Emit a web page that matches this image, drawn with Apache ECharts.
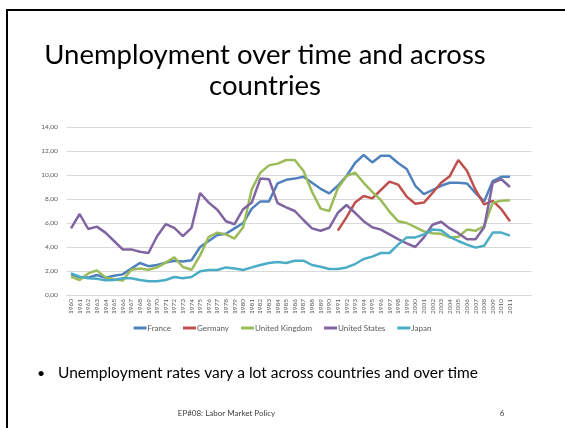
<!DOCTYPE html>
<html>
<head>
<meta charset="utf-8">
<script src="https://cdn.jsdelivr.net/npm/echarts@6/dist/echarts.min.js"></script>
<style>
  html, body { margin: 0; padding: 0; background: #fff; }
  #chart { width: 565px; height: 428px; }
</style>
</head>
<body>
<div id="chart"></div>
<script>
// Unemployment rates (%), 1960–2011
const years = [];
for (let y = 1960; y <= 2011; y++) years.push(String(y));

const france = [1.75, 1.47, 1.45, 1.67, 1.44, 1.6, 1.72, 2.2, 2.67, 2.4, 2.5, 2.7, 2.86, 2.8, 2.9, 4.0, 4.5, 5.0, 5.1,
  5.55, 6.0, 7.2, 7.8, 7.8, 9.3, 9.6, 9.7, 9.85, 9.35, 8.85, 8.47, 9.1, 9.9, 11.0, 11.67, 11.05, 11.6, 11.6, 11.0,
  10.5, 9.1, 8.4, 8.75, 9.1, 9.35, 9.35, 9.3, 8.5, 7.8, 9.5, 9.85, 9.85];

const germany = [null, null, null, null, null, null, null, null, null, null, null, null, null, null, null, null,
  null, null, null, null, null, null, null, null, null, null, null, null, null, null, null,
  5.36, 6.47, 7.7, 8.25, 8.05, 8.75, 9.45, 9.2, 8.2, 7.6, 7.7, 8.5, 9.35, 9.9, 11.25, 10.35, 8.75, 7.55, 7.85, 7.15, 6.15];

const unitedKingdom = [1.53, 1.25, 1.8, 2.05, 1.47, 1.3, 1.2, 2.1, 2.2, 2.1, 2.3, 2.7, 3.15, 2.33, 2.1, 3.3, 4.85, 5.2, 5.05,
  4.7, 5.65, 8.8, 10.2, 10.8, 10.95, 11.25, 11.25, 10.35, 8.6, 7.2, 7.0, 8.9, 9.9, 10.2, 9.35, 8.6, 7.9, 6.95, 6.15,
  6.0, 5.65, 5.3, 5.15, 5.1, 4.8, 4.85, 5.45, 5.35, 5.75, 7.7, 7.85, 7.9];

const unitedStates = [5.55, 6.75, 5.5, 5.7, 5.2, 4.5, 3.8, 3.8, 3.6, 3.5, 4.9, 5.9, 5.6, 4.9, 5.6, 8.5, 7.7, 7.1, 6.15,
  5.9, 7.15, 7.7, 9.7, 9.65, 7.65, 7.3, 7.0, 6.25, 5.55, 5.35, 5.6, 6.85, 7.5, 6.85, 6.15, 5.65, 5.45, 5.05, 4.65,
  4.3, 4.0, 4.8, 5.85, 6.1, 5.55, 5.15, 4.65, 4.65, 5.65, 9.35, 9.65, 9.0];

const japan = [1.8, 1.53, 1.4, 1.36, 1.22, 1.25, 1.4, 1.4, 1.25, 1.14, 1.14, 1.25, 1.5, 1.4, 1.5, 1.97, 2.08, 2.08, 2.3,
  2.2, 2.08, 2.3, 2.5, 2.67, 2.75, 2.67, 2.86, 2.86, 2.5, 2.36, 2.17, 2.17, 2.3, 2.58, 3.0, 3.2, 3.5, 3.5, 4.2,
  4.8, 4.8, 5.05, 5.45, 5.4, 4.85, 4.5, 4.2, 3.95, 4.1, 5.2, 5.2, 4.95];

const seriesNames = ['France', 'Germany', 'United Kingdom', 'United States', 'Japan'];
const seriesData = [france, germany, unitedKingdom, unitedStates, japan];
const seriesColors = ['#4F81BD', '#C0504D', '#9BBB59', '#8064A2', '#4BACC6'];

// two trailing empty slots leave room on the right of the plot area
const categories = years.concat(['', '']);

const chart = echarts.init(document.getElementById('chart'), null, { renderer: 'canvas' });

const textFont = 'Lato, "Open Sans", sans-serif';

chart.setOption({
  backgroundColor: '#ffffff',
  animation: false,
  grid: { left: 66.7, right: 33.5, top: 127, bottom: 133, containLabel: false },
  legend: {
    data: seriesNames,
    top: 319,
    left: 'center',
    itemWidth: 13,
    itemHeight: 3,
    itemGap: 12,
    icon: 'rect',
    textStyle: { fontFamily: textFont, fontSize: 8, color: '#595959', padding: [0, 0, 0, -4] }
  },
  xAxis: {
    type: 'category',
    data: categories,
    boundaryGap: true,
    axisLine: { lineStyle: { color: '#D9D9D9', width: 1 } },
    axisTick: { show: false },
    axisLabel: { rotate: 90, interval: 0, fontSize: 6.5, color: '#595959', fontFamily: textFont, margin: 4 },
    splitLine: { show: false }
  },
  yAxis: {
    type: 'value',
    min: 0,
    max: 14,
    interval: 2,
    axisLine: { show: false },
    axisTick: { show: false },
    axisLabel: {
      fontSize: 6.5, color: '#595959', fontFamily: textFont, margin: 9,
      formatter: v => v.toFixed(2).replace('.', ',')
    },
    splitLine: { lineStyle: { color: '#D9D9D9', width: 1 } }
  },
  series: seriesNames.map((name, i) => ({
    name: name,
    type: 'line',
    data: seriesData[i],
    symbol: 'none',
    connectNulls: false,
    lineStyle: { color: seriesColors[i], width: 2.5 },
    itemStyle: { color: seriesColors[i] }
  })),
  graphic: [
    {
      type: 'rect',
      shape: { x: 7, y: 10, width: 600, height: 460 },
      style: { fill: 'none', stroke: '#000', lineWidth: 2 },
      silent: true
    },
    {
      type: 'text',
      x: 265, y: 55,
      style: {
        text: 'Unemployment over time and across', fontFamily: textFont, fontSize: 27.5,
        fill: '#000', align: 'center', verticalAlign: 'middle'
      }
    },
    {
      type: 'text',
      x: 265, y: 86,
      style: {
        text: 'countries', fontFamily: textFont, fontSize: 27.5,
        fill: '#000', align: 'center', verticalAlign: 'middle'
      }
    },
    {
      type: 'text',
      x: 41, y: 373,
      style: { text: '•', fontFamily: textFont, fontSize: 14, fill: '#000', align: 'center', verticalAlign: 'middle' }
    },
    {
      type: 'text',
      x: 58, y: 373,
      style: {
        text: 'Unemployment rates vary a lot across countries and over time', fontFamily: textFont,
        fontSize: 15.5, fill: '#000', align: 'left', verticalAlign: 'middle'
      }
    },
    {
      type: 'text',
      x: 226.5, y: 413,
      style: {
        text: 'EP#08: Labor Market Policy', fontFamily: textFont, fontSize: 8,
        fill: '#404040', align: 'center', verticalAlign: 'middle'
      }
    },
    {
      type: 'text',
      x: 502, y: 413,
      style: { text: '6', fontFamily: textFont, fontSize: 8, fill: '#404040', align: 'center', verticalAlign: 'middle' }
    }
  ]
});
</script>
</body>
</html>
